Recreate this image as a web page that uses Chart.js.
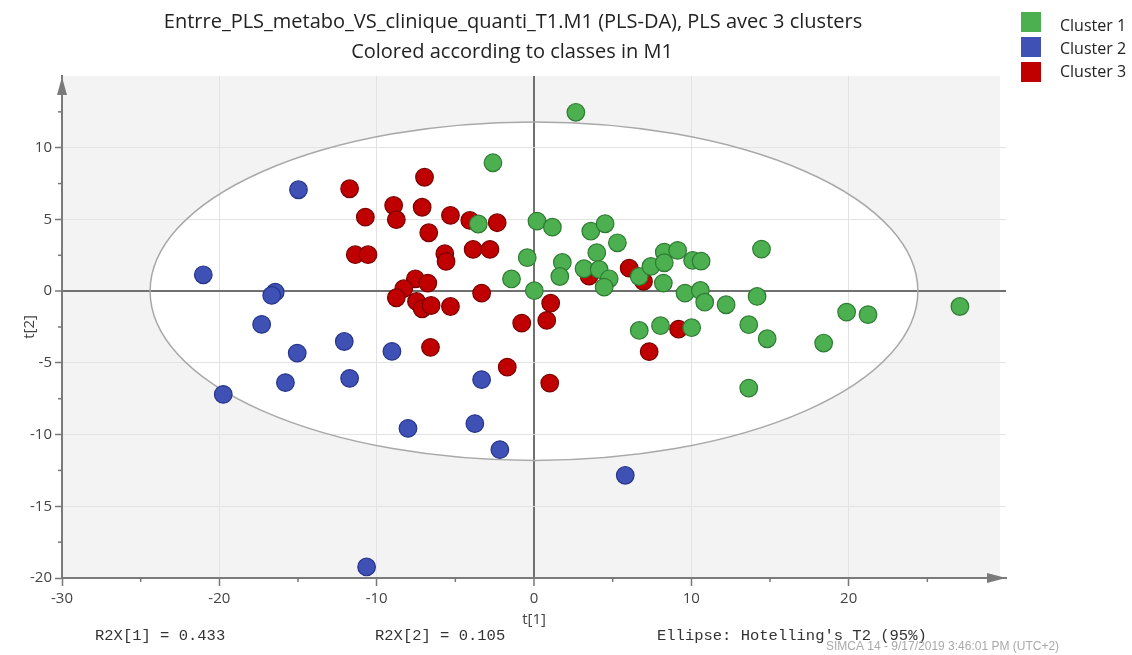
<!DOCTYPE html>
<html>
<head>
<meta charset="utf-8">
<title>PLS-DA scores</title>
<script src="https://cdn.jsdelivr.net/npm/chart.js@4"></script>
<style>
  html, body { margin: 0; padding: 0; background: #fff; }
  #wrap { width: 1132px; height: 655px; position: relative; }
</style>
</head>
<body>
<div id="wrap"><canvas id="scores"></canvas></div>
<script>
// --- data (t[1], t[2] scores per cluster) ---
const clusterNames = ["Cluster 1", "Cluster 2", "Cluster 3"];
const clusterColors = ["#4caf50", "#3f51b5", "#c00000"];
const clusterBorders = ["#2e7a32", "#26348a", "#7a0000"];

const c1t1 = [2.66, -2.61, -3.54, 0.19, 1.17, 3.61, 4.52, 5.30, -0.43, 3.99, 1.80, 1.64, 3.18, 4.14,
  4.78, 4.46, -1.43, 0.02, 6.69, 7.43, 8.28, 9.13, 8.28, 10.08, 10.62, 8.22, 9.60, 10.57, 10.85,
  12.21, 14.18, 14.46, 6.69, 8.04, 10.02, 13.65, 14.82, 18.41, 19.87, 21.23, 27.07, 13.65];
const c1t2 = [12.47, 8.95, 4.68, 4.88, 4.46, 4.18, 4.70, 3.37, 2.33, 2.68, 2.00, 1.02, 1.56, 1.51,
  0.86, 0.28, 0.85, 0.03, 1.02, 1.72, 2.72, 2.84, 1.98, 2.14, 2.09, 0.56, -0.14, 0.05, -0.77,
  -0.95, -0.37, 2.93, -2.74, -2.41, -2.55, -2.34, -3.32, -3.62, -1.46, -1.64, -1.07, -6.76];

const c2t1 = [-14.97, -21.02, -16.45, -16.67, -17.31, -15.05, -12.06, -9.03, -15.80, -11.72,
  -19.75, -3.33, -8.01, -3.76, -2.17, -10.64, 5.80];
const c2t2 = [7.07, 1.14, -0.07, -0.30, -2.32, -4.32, -3.51, -4.20, -6.38, -6.08,
  -7.20, -6.17, -9.57, -9.24, -11.05, -19.23, -12.84];

const c3t1 = [-6.96, -11.72, -8.92, -7.11, -10.72, -8.75, -5.31, -4.08, -2.34, -6.69, -11.36, -10.55,
  -5.67, -5.59, -3.87, -2.80, -7.54, -6.75, -8.28, -8.75, -7.47, -7.11, -6.54, -5.31, -3.33, -0.78,
  -6.58, -1.70, 1.06, 0.81, 1.00, 3.50, 6.05, 6.96, 9.19, 7.32];
const c3t2 = [7.94, 7.14, 5.97, 5.85, 5.16, 4.98, 5.28, 4.93, 4.77, 4.07, 2.54, 2.54,
  2.61, 2.07, 2.91, 2.91, 0.86, 0.56, 0.17, -0.46, -0.72, -1.23, -1.00, -1.07, -0.14, -2.23,
  -3.92, -5.30, -0.84, -2.04, -6.41, 1.05, 1.60, 0.68, -2.65, -4.22];

// axis ranges, ticks
const xRange = [-30, 30];
const yRange = [-20, 15];
const xStep = 10, yStep = 5;
const xMinorStep = 5, yMinorStep = 2.5;
// Hotelling's T2 (95%) ellipse half-axes
const ellipseT1 = 24.4, ellipseT2 = 11.8;

const titleLines = [
  "Entrre_PLS_metabo_VS_clinique_quanti_T1.M1 (PLS-DA), PLS avec 3 clusters",
  "Colored according to classes in M1"
];
const footNotes = ["R2X[1] = 0.433", "R2X[2] = 0.105", "Ellipse: Hotelling's T2 (95%)"];
const stamp = "SIMCA 14 - 9/17/2019 3:46:01 PM (UTC+2)";

const toPoints = (xs, ys) => xs.map((v, i) => ({ x: v, y: ys[i] }));
const series = [toPoints(c1t1, c1t2), toPoints(c2t1, c2t2), toPoints(c3t1, c3t2)];

const sans = "'Open Sans', 'Noto Sans', sans-serif";

const decor = {
  id: "decor",
  beforeDraw(chart) {
    const { ctx, chartArea: a, scales: { x, y } } = chart;
    ctx.save();
    ctx.fillStyle = "#f3f3f3";
    ctx.fillRect(a.left, a.top, a.right - a.left - 6, a.bottom - a.top);
    const cx = x.getPixelForValue(0), cy = y.getPixelForValue(0);
    ctx.beginPath();
    ctx.ellipse(cx, cy, x.getPixelForValue(ellipseT1) - cx, cy - y.getPixelForValue(ellipseT2), 0, 0, Math.PI * 2);
    ctx.fillStyle = "#fff";
    ctx.fill();
    ctx.restore();
  },
  beforeDatasetsDraw(chart) {
    const { ctx, chartArea: a, scales: { x, y } } = chart;
    ctx.save();
    const cx = x.getPixelForValue(0), cy = y.getPixelForValue(0);
    ctx.beginPath();
    ctx.ellipse(cx, cy, x.getPixelForValue(ellipseT1) - cx, cy - y.getPixelForValue(ellipseT2), 0, 0, Math.PI * 2);
    ctx.strokeStyle = "#a8a8a8";
    ctx.lineWidth = 1.5;
    ctx.stroke();

    // minor ticks
    ctx.strokeStyle = "#777";
    ctx.lineWidth = 1.5;
    for (let v = xRange[0] + xMinorStep; v < xRange[1]; v += xStep) {
      const px = x.getPixelForValue(v);
      ctx.beginPath(); ctx.moveTo(px, a.bottom); ctx.lineTo(px, a.bottom + 4); ctx.stroke();
    }
    for (let v = yRange[0] + yMinorStep; v < yRange[1]; v += yStep) {
      const py = y.getPixelForValue(v);
      ctx.beginPath(); ctx.moveTo(a.left, py); ctx.lineTo(a.left - 4, py); ctx.stroke();
    }

    // axis arrows
    ctx.fillStyle = "#7a7a7a";
    ctx.beginPath();
    ctx.moveTo(a.right, a.bottom);
    ctx.lineTo(a.right - 19, a.bottom - 5);
    ctx.lineTo(a.right - 19, a.bottom + 5);
    ctx.closePath(); ctx.fill();
    ctx.beginPath();
    ctx.moveTo(a.left, a.top + 1);
    ctx.lineTo(a.left - 5, a.top + 19);
    ctx.lineTo(a.left + 5, a.top + 19);
    ctx.closePath(); ctx.fill();
    ctx.restore();
  },
  afterDraw(chart) {
    const { ctx } = chart;
    ctx.save();
    // title
    ctx.fillStyle = "#222";
    ctx.textAlign = "center";
    ctx.textBaseline = "middle";
    ctx.font = "20px " + sans;
    ctx.fillText(titleLines[0], 513, 22, 700);
    ctx.fillText(titleLines[1], 512, 52, 326);

    // legend
    ctx.textAlign = "left";
    ctx.font = "16px " + sans;
    chart.data.datasets.forEach((ds, i) => {
      ctx.fillStyle = ds.backgroundColor;
      ctx.fillRect(1021, 12 + i * 25, 20, 20);
      ctx.fillStyle = "#222";
      ctx.fillText(ds.label, 1060, 26 + i * 23, 68);
    });

    // footer
    ctx.font = "15.5px 'Liberation Mono', 'DejaVu Sans Mono', monospace";
    ctx.fillStyle = "#333";
    ctx.fillText(footNotes[0], 95, 636, 131);
    ctx.fillText(footNotes[1], 375, 636, 132);
    ctx.fillText(footNotes[2], 657, 636, 274);
    ctx.font = "12px 'Liberation Sans', sans-serif";
    ctx.fillStyle = "#a9a9a9";
    ctx.fillText(stamp, 826, 647, 240);
    ctx.restore();
  }
};

const gridColor = (ctx, max) => {
  const v = ctx.tick && ctx.tick.value;
  if (v === 0) return "#707070";
  if (v === max) return "rgba(0,0,0,0)";
  return "#e3e3e3";
};

new Chart(document.getElementById("scores"), {
  type: "scatter",
  data: {
    datasets: clusterNames.map((name, i) => ({
      label: name,
      data: series[i],
      backgroundColor: clusterColors[i],
      borderColor: clusterBorders[i],
      borderWidth: 1.2,
      pointRadius: 8.8,
      pointHoverRadius: 8.8,
    })),
  },
  options: {
    responsive: true,
    maintainAspectRatio: false,
    animation: false,
    layout: { padding: { left: 0, top: 76, right: 126, bottom: 0 } },
    plugins: {
      legend: { display: false },
      tooltip: { enabled: false },
    },
    scales: {
      x: {
        type: "linear",
        min: xRange[0],
        max: xRange[1],
        afterFit: (s) => { s.height = 77; },
        border: { color: "#7a7a7a", width: 2 },
        grid: {
          color: (c) => gridColor(c, xRange[1]),
          lineWidth: (c) => (c.tick && c.tick.value === 0 ? 2 : 1),
          tickColor: (c) => (c.tick && c.tick.value === xRange[1] ? "rgba(0,0,0,0)" : "#777"),
          tickLength: 8,
          tickWidth: 1.5,
        },
        ticks: {
          stepSize: xStep,
          color: "#444",
          font: { family: sans, size: 15 },
          padding: 4,
          maxRotation: 0,
          callback: (v) => (v === xRange[1] ? "" : v),
        },
        title: {
          display: true,
          text: "t[1]",
          color: "#444",
          font: { family: sans, size: 15 },
          padding: { top: 0, bottom: 26 },
        },
      },
      y: {
        type: "linear",
        min: yRange[0],
        max: yRange[1],
        afterFit: (s) => { s.width = 62; },
        border: { color: "#7a7a7a", width: 2 },
        grid: {
          color: (c) => gridColor(c, yRange[1]),
          lineWidth: (c) => (c.tick && c.tick.value === 0 ? 2 : 1),
          tickColor: (c) => (c.tick && c.tick.value === yRange[1] ? "rgba(0,0,0,0)" : "#777"),
          tickLength: 7,
          tickWidth: 1.5,
        },
        ticks: {
          stepSize: yStep,
          color: "#444",
          font: { family: sans, size: 15 },
          padding: 3,
          callback: (v) => (v === yRange[1] ? "" : v),
        },
        title: {
          display: true,
          text: "t[2]",
          color: "#444",
          font: { family: sans, size: 15 },
          padding: { top: 21, bottom: 0 },
        },
      },
    },
  },
  plugins: [decor],
});
</script>
</body>
</html>
